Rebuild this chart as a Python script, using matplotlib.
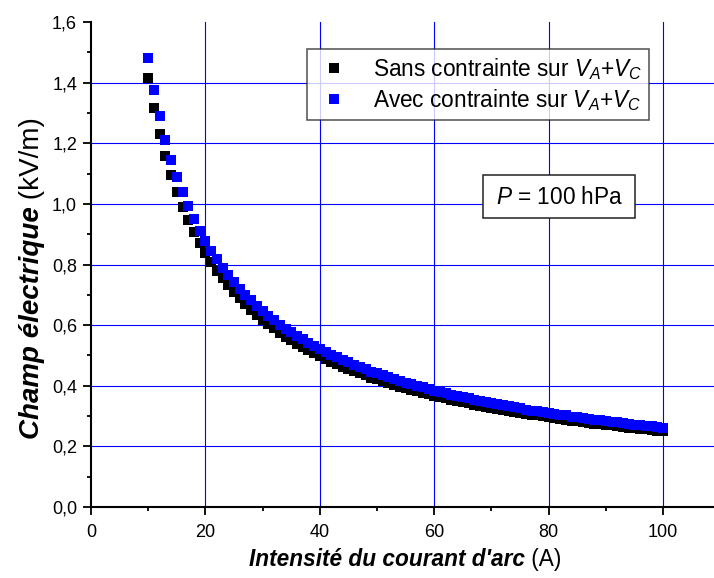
import matplotlib
matplotlib.use('Agg')
import matplotlib.pyplot as plt
from matplotlib.ticker import FixedLocator, FixedFormatter, MultipleLocator
from matplotlib.patches import Rectangle
from matplotlib.transforms import IdentityTransform

plt.rcParams['font.family'] = ['Liberation Sans', 'DejaVu Sans']
plt.rcParams['mathtext.fontset'] = 'custom'
plt.rcParams['mathtext.rm'] = 'Liberation Sans'
plt.rcParams['mathtext.it'] = 'Liberation Sans:italic'

# ---- data ----
current = list(range(10, 101))
e_sans = [1.415, 1.315, 1.232, 1.158, 1.095, 1.040, 0.991, 0.947, 0.907, 0.871,
          0.838, 0.808, 0.780, 0.754, 0.731, 0.709, 0.688, 0.669, 0.651, 0.634,
          0.618, 0.603, 0.589, 0.575, 0.562, 0.550, 0.539, 0.528, 0.517, 0.507,
          0.498, 0.489, 0.480, 0.472, 0.463, 0.456, 0.448, 0.441, 0.434, 0.427,
          0.421, 0.415, 0.409, 0.403, 0.397, 0.392, 0.387, 0.382, 0.377, 0.372,
          0.367, 0.363, 0.358, 0.354, 0.350, 0.346, 0.342, 0.338, 0.334, 0.331,
          0.327, 0.324, 0.320, 0.317, 0.314, 0.311, 0.307, 0.304, 0.302, 0.299,
          0.296, 0.293, 0.290, 0.288, 0.285, 0.283, 0.280, 0.278, 0.275, 0.273,
          0.271, 0.269, 0.266, 0.264, 0.262, 0.260, 0.258, 0.256, 0.254, 0.252,
          0.250]
e_avec = [1.480, 1.377, 1.290, 1.212, 1.146, 1.089, 1.038, 0.992, 0.950, 0.912,
          0.877, 0.846, 0.817, 0.789, 0.765, 0.742, 0.720, 0.700, 0.682, 0.664,
          0.647, 0.631, 0.617, 0.602, 0.588, 0.576, 0.564, 0.553, 0.541, 0.531,
          0.521, 0.512, 0.503, 0.494, 0.485, 0.477, 0.469, 0.462, 0.454, 0.447,
          0.441, 0.435, 0.428, 0.422, 0.416, 0.410, 0.405, 0.400, 0.395, 0.389,
          0.384, 0.380, 0.375, 0.371, 0.366, 0.362, 0.358, 0.354, 0.350, 0.347,
          0.342, 0.339, 0.335, 0.332, 0.329, 0.326, 0.321, 0.318, 0.316, 0.313,
          0.310, 0.307, 0.304, 0.302, 0.298, 0.296, 0.293, 0.291, 0.288, 0.286,
          0.284, 0.282, 0.279, 0.276, 0.274, 0.272, 0.270, 0.268, 0.266, 0.264,
          0.262]
label_sans = r"Sans contrainte sur $V_A$+$V_C$"
label_avec = r"Avec contrainte sur $V_A$+$V_C$"
x_ticks = [0, 20, 40, 60, 80, 100]
x_tick_labels = ['0', '20', '40', '60', '80', '100']
y_ticks = [0.0, 0.2, 0.4, 0.6, 0.8, 1.0, 1.2, 1.4, 1.6]
y_tick_labels = ['0,0', '0,2', '0,4', '0,6', '0,8', '1,0', '1,2', '1,4', '1,6']
pressure_text = r"$P$ = 100 hPa"

# ---- figure ----
W, H = 714, 578
fig = plt.figure(figsize=(W / 100, H / 100), dpi=100)
ax = fig.add_axes([91 / W, 1 - 507 / H, (W - 91) / W, (507 - 22) / H])
ax.set_xlim(0, 108.9)
ax.set_ylim(0, 1.6)

grid_color = '#0000ff'
for v in x_ticks[1:]:
    ax.axvline(v, color=grid_color, lw=0.8, zorder=1)
for v in y_ticks[1:-1]:
    ax.axhline(v, color=grid_color, lw=0.8, zorder=1)

ax.plot(current, e_sans, 's', color='black', ms=6.8, mew=0, label=label_sans, zorder=3)
ax.plot(current, e_avec, 's', color='#0000ff', ms=6.8, mew=0, label=label_avec, zorder=4)

ax.xaxis.set_major_locator(FixedLocator(x_ticks))
ax.xaxis.set_major_formatter(FixedFormatter(x_tick_labels))
ax.yaxis.set_major_locator(FixedLocator(y_ticks))
ax.yaxis.set_major_formatter(FixedFormatter(y_tick_labels))
ax.xaxis.set_minor_locator(MultipleLocator(10))
ax.yaxis.set_minor_locator(MultipleLocator(0.1))
ax.tick_params(which='major', direction='out', length=6, width=1.3, labelsize=13, colors='black')
ax.tick_params(which='minor', direction='out', length=3, width=1.3)
ax.tick_params(axis='x', which='major', pad=6)
ax.tick_params(axis='y', which='major', pad=4)
for s in ['top', 'right']:
    ax.spines[s].set_visible(False)
for s in ['left', 'bottom']:
    ax.spines[s].set_linewidth(1.5)
    ax.spines[s].set_zorder(5)

leg = ax.legend(loc='upper left', bbox_to_anchor=(307 / W, 1 - 49 / H),
                bbox_transform=fig.transFigure, fontsize=16.3, frameon=True,
                fancybox=False, borderaxespad=0, borderpad=0.3,
                handlelength=1.8, handletextpad=0.8, labelspacing=0.25,
                markerscale=1.1)
leg.get_frame().set_edgecolor('#222222')
leg.get_frame().set_linewidth(1.1)

# pressure box
fig.patches.append(Rectangle((483 / W, 1 - 218 / H), 152 / W, 43 / H,
                             transform=fig.transFigure, facecolor='white',
                             edgecolor='#222222', lw=1.1, zorder=6))
fig.text(560 / W, 1 - 197 / H, pressure_text, ha='center', va='center',
         fontsize=16.3, zorder=7)

# mixed-style axis labels
fig.canvas.draw()
r = fig.canvas.get_renderer()

def measure(s, **kw):
    t = fig.text(0, 0, s, transform=IdentityTransform(), **kw)
    w = t.get_window_extent(r).width
    t.remove()
    return w

# x label
bi = dict(fontsize=16.3, fontweight='bold', fontstyle='italic')
rg = dict(fontsize=16.3)
xp1, xp2 = "Intensité du courant d'arc", " (A)"
w1 = measure(xp1, **bi)
w2 = measure(xp2, **rg)
cx, base = 405, H - 566
x0 = cx - (w1 + w2) / 2
fig.text(x0, base, xp1, transform=IdentityTransform(), ha='left', va='baseline', **bi)
fig.text(x0 + w1, base, xp2, transform=IdentityTransform(), ha='left', va='baseline', **rg)

# y label
bi = dict(fontsize=20, fontweight='bold', fontstyle='italic')
rg = dict(fontsize=20)
yp1, yp2 = "Champ électrique", " (kV/m)"
w1 = measure(yp1, **bi)
w2 = measure(yp2, **rg)
cy, basex = H - 278, 39
y0 = cy - (w1 + w2) / 2
fig.text(basex, y0, yp1, transform=IdentityTransform(), rotation=90,
         rotation_mode='anchor', ha='left', va='baseline', **bi)
fig.text(basex, y0 + w1, yp2, transform=IdentityTransform(), rotation=90,
         rotation_mode='anchor', ha='left', va='baseline', **rg)

fig.savefig('out.png', dpi=100)
